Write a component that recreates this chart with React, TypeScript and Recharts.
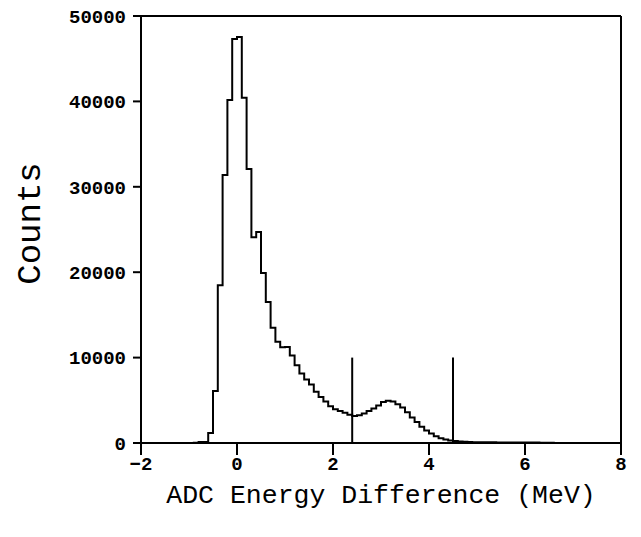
import React from "react";
import { ComposedChart, Line, XAxis, YAxis, ReferenceLine } from "recharts";

// Histogram bin left edges (MeV); last entry closes the final bin
const binEdges = [
  -1.0, -0.9, -0.8, -0.7, -0.6, -0.5, -0.4, -0.3, -0.2, -0.1,
  0.0, 0.1, 0.2, 0.3, 0.4, 0.5, 0.6, 0.7, 0.8, 0.9,
  1.0, 1.1, 1.2, 1.3, 1.4, 1.5, 1.6, 1.7, 1.8, 1.9,
  2.0, 2.1, 2.2, 2.3, 2.4, 2.5, 2.6, 2.7, 2.8, 2.9,
  3.0, 3.1, 3.2, 3.3, 3.4, 3.5, 3.6, 3.7, 3.8, 3.9,
  4.0, 4.1, 4.2, 4.3, 4.4, 4.5, 4.6, 4.7, 4.8, 4.9,
  5.0, 5.1, 5.2, 5.3, 5.4, 5.5, 5.6, 5.7, 5.8, 5.9,
  6.0, 6.1, 6.2, 6.3, 6.4, 6.5, 6.6,
];

// Counts in each bin starting at the matching edge
const binCounts = [
  0, 30, 120, 120, 1170, 6090, 18480, 31370, 40160, 47300,
  47550, 40430, 32070, 24100, 24700, 19900, 16500, 13500, 11850, 11200,
  11250, 10250, 9100, 8150, 7450, 6850, 6000, 5400, 4850, 4300,
  3950, 3750, 3550, 3300, 3150, 3250, 3450, 3750, 4050, 4400,
  4800, 4950, 4850, 4550, 4150, 3600, 3000, 2450, 1900, 1450,
  1100, 800, 550, 400, 300, 230, 180, 150, 120, 100,
  90, 85, 80, 75, 70, 65, 60, 60, 55, 50,
  50, 45, 45, 40, 40, 35, 0,
];

const xTicks = [-2, 0, 2, 4, 6, 8];
const yTicks = [0, 10000, 20000, 30000, 40000, 50000];
const cutPositions = [2.4, 4.5];
const cutHeight = 10000;

const xTitle = "ADC Energy Difference (MeV)";
const yTitle = "Counts";

const chartData = binEdges.map((x, i) => ({ x, count: binCounts[i] }));

const tickStyle = {
  fontFamily: "'Liberation Mono', 'DejaVu Sans Mono', monospace",
  fontWeight: 700,
  fontSize: 19,
  fill: "#000",
};

const fmtX = (v: number) => (v < 0 ? "\u2212" + Math.abs(v) : String(v));

export default function App() {
  return (
    <div style={{ position: "absolute", left: 0, top: 0, width: 641, height: 537, background: "#fff" }}>
      <ComposedChart
        width={641}
        height={537}
        data={chartData}
        margin={{ top: 16, right: 20, bottom: 0, left: 0 }}
      >
        <XAxis
          dataKey="x"
          type="number"
          domain={[-2, 8]}
          ticks={xTicks}
          allowDataOverflow
          height={94}
          tickSize={12}
          tickMargin={2}
          tickFormatter={fmtX}
          tick={tickStyle}
          axisLine={{ stroke: "#000", strokeWidth: 2 }}
          tickLine={{ stroke: "#000", strokeWidth: 2 }}
          label={{
            content: (props: any) => {
              const vb = props.viewBox || {};
              return (
                <text
                  x={vb.x + vb.width / 2}
                  y={503}
                  textAnchor="middle"
                  style={{
                    fontFamily: "'Liberation Mono', 'DejaVu Sans Mono', monospace",
                    fontSize: 26.5,
                    fill: "#000",
                  }}
                >
                  {xTitle}
                </text>
              );
            },
          }}
        />
        <YAxis
          type="number"
          domain={[0, 50000]}
          ticks={yTicks}
          allowDataOverflow
          width={141}
          tickSize={8}
          tickMargin={7}
          tick={tickStyle}
          axisLine={{ stroke: "#000", strokeWidth: 2 }}
          tickLine={{ stroke: "#000", strokeWidth: 2 }}
          label={{
            content: (props: any) => {
              const vb = props.viewBox || {};
              const cy = vb.y + vb.height / 2 - 6;
              return (
                <text
                  x={31}
                  y={cy}
                  transform={`rotate(-90, 31, ${cy})`}
                  textAnchor="middle"
                  dominantBaseline="central"
                  style={{
                    fontFamily: "'Liberation Mono', 'DejaVu Sans Mono', monospace",
                    fontSize: 34,
                    fill: "#000",
                  }}
                >
                  {yTitle}
                </text>
              );
            },
          }}
        />
        <ReferenceLine y={50000} stroke="#000" strokeWidth={2} />
        <ReferenceLine x={8} stroke="#000" strokeWidth={2} />
        {cutPositions.map((c) => (
          <ReferenceLine
            key={c}
            segment={[
              { x: c, y: 0 },
              { x: c, y: cutHeight },
            ]}
            stroke="#000"
            strokeWidth={2}
          />
        ))}
        <Line
          type="stepAfter"
          dataKey="count"
          stroke="#000"
          strokeWidth={2}
          dot={false}
          isAnimationActive={false}
        />
      </ComposedChart>
    </div>
  );
}
